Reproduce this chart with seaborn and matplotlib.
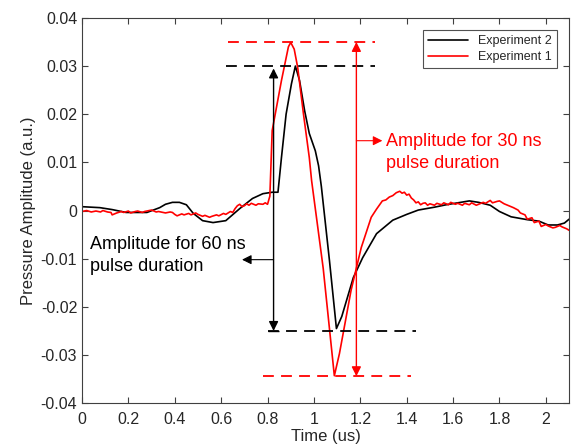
import pandas as pd
import matplotlib
matplotlib.use("Agg")
import matplotlib.pyplot as plt
import seaborn as sns

# Experiment 2 (black trace)
time_exp2 = [0.00, 0.077, 0.13, 0.19, 0.28, 0.335, 0.36, 0.39, 0.42, 0.45, 0.48, 0.52,
             0.565, 0.62, 0.68, 0.735, 0.78, 0.82, 0.845, 0.86, 0.88, 0.903, 0.92,
             0.938, 0.96, 0.98, 1.006, 1.02, 1.032, 1.067, 1.097, 1.12, 1.17, 1.21,
             1.27, 1.34, 1.40, 1.45, 1.52, 1.57, 1.62, 1.67, 1.71, 1.76, 1.80, 1.85,
             1.92, 1.97, 2.01, 2.05, 2.08, 2.10]
amp_exp2 = [0.0008, 0.0006, 0.0002, -0.0004, -0.0004, 0.0006, 0.0013, 0.0017, 0.0017,
            0.0012, -0.0006, -0.0021, -0.0025, -0.0021, 0.0004, 0.0025, 0.0035, 0.0038,
            0.0038, 0.0110, 0.0200, 0.0263, 0.0300, 0.0270, 0.0207, 0.0160, 0.0124,
            0.0093, 0.0050, -0.0104, -0.0245, -0.0220, -0.0139, -0.0098, -0.0048,
            -0.0020, -0.0008, 0.0001, 0.0007, 0.0012, 0.0016, 0.0020, 0.0017, 0.0011,
            -0.0002, -0.0013, -0.0019, -0.0022, -0.0030, -0.0030, -0.0026, -0.0018]

# Experiment 1 (red trace)
time_exp1 = [0.00, 0.02, 0.04, 0.06, 0.08, 0.09, 0.11, 0.125, 0.13, 0.15, 0.17, 0.18,
             0.20, 0.21, 0.23, 0.24, 0.26, 0.27, 0.29, 0.30, 0.32, 0.33, 0.35, 0.36,
             0.38, 0.39, 0.40, 0.41, 0.43, 0.44, 0.46, 0.47, 0.49, 0.50, 0.52, 0.53,
             0.55, 0.56, 0.58, 0.59, 0.61, 0.62, 0.64, 0.65, 0.66, 0.67, 0.68, 0.69,
             0.70, 0.71, 0.72, 0.73, 0.75, 0.76, 0.78, 0.79, 0.80, 0.81, 0.82, 0.86,
             0.89, 0.90, 0.915, 0.93, 0.955, 0.98, 0.99, 1.04, 1.088, 1.11, 1.16,
             1.204, 1.247, 1.27, 1.295, 1.31, 1.325, 1.34, 1.355, 1.37, 1.38, 1.39,
             1.40, 1.41, 1.42, 1.43, 1.44, 1.45, 1.46, 1.47, 1.48, 1.49, 1.50, 1.52,
             1.53, 1.55, 1.56, 1.58, 1.59, 1.61, 1.62, 1.64, 1.65, 1.67, 1.68, 1.70,
             1.71, 1.73, 1.74, 1.76, 1.77, 1.79, 1.80, 1.82, 1.83, 1.85, 1.86, 1.88,
             1.89, 1.91, 1.92, 1.94, 1.95, 1.97, 1.98, 2.00, 2.01, 2.03, 2.04, 2.06,
             2.07, 2.09, 2.10]
amp_exp1 = [-0.0002, 0.0000, -0.0003, -0.0001, -0.0003, 0.0000, -0.0003, -0.0004,
            -0.0009, -0.0005, -0.0002, -0.0004, -0.0001, -0.0005, -0.0002, -0.0001,
            -0.0004, -0.0002, 0.0000, 0.0001, -0.0003, -0.0002, -0.0004, -0.0005,
            -0.0003, -0.0004, -0.0008, -0.0011, -0.0007, -0.0009, -0.0006, -0.0009,
            -0.0005, -0.0008, -0.0012, -0.0010, -0.0014, -0.0012, -0.0009, -0.0011,
            -0.0006, -0.0008, -0.0002, -0.0004, 0.0004, 0.0010, 0.0013, 0.0008,
            0.0010, 0.0014, 0.0011, 0.0015, 0.0011, 0.0014, 0.0013, 0.0016, 0.0013,
            0.0030, 0.0166, 0.0270, 0.0340, 0.0349, 0.0335, 0.0297, 0.0200, 0.0110,
            0.0062, -0.0120, -0.0343, -0.0297, -0.0166, -0.0077, -0.0014, 0.0003,
            0.0020, 0.0022, 0.0028, 0.0031, 0.0037, 0.0040, 0.0036, 0.0038, 0.0032,
            0.0034, 0.0026, 0.0022, 0.0016, 0.0018, 0.0012, 0.0015, 0.0016, 0.0011,
            0.0014, 0.0011, 0.0015, 0.0012, 0.0016, 0.0012, 0.0017, 0.0013, 0.0015,
            0.0011, 0.0015, 0.0012, 0.0016, 0.0011, 0.0013, 0.0017, 0.0015, 0.0021,
            0.0016, 0.0019, 0.0020, 0.0014, 0.0012, 0.0008, 0.0006, 0.0001, -0.0005,
            -0.0009, -0.0018, -0.0015, -0.0025, -0.0022, -0.0033, -0.0029, -0.0032,
            -0.0036, -0.0035, -0.0031, -0.0034, -0.0038, -0.0041]

# amplitude levels marked by the dashed lines
peak_60 = 0.030
trough_60 = -0.025
peak_30 = 0.035
trough_30 = -0.0344

df = pd.concat([
    pd.DataFrame({"Time": time_exp2, "Amp": amp_exp2, "Series": "Experiment 2"}),
    pd.DataFrame({"Time": time_exp1, "Amp": amp_exp1, "Series": "Experiment 1"}),
])

sns.set_style("ticks")
plt.rcParams["font.family"] = ["Liberation Sans", "DejaVu Sans"]

fig = plt.figure(figsize=(5.71, 4.47), dpi=100)
ax = fig.add_axes([0.1436, 0.098, 0.853, 0.862])

sns.lineplot(data=df, x="Time", y="Amp", hue="Series",
             palette={"Experiment 2": "black", "Experiment 1": "red"},
             estimator=None, sort=False, linewidth=1.2, ax=ax)

# dashed reference levels
dash = (0, (6, 4))
ax.hlines(peak_30, 0.63, 1.265, colors="red", linestyles=dash, linewidth=1.3)
ax.hlines(peak_60, 0.62, 1.265, colors="black", linestyles=dash, linewidth=1.3)
ax.hlines(trough_60, 0.80, 1.44, colors="black", linestyles=dash, linewidth=1.3)
ax.hlines(trough_30, 0.78, 1.42, colors="red", linestyles=dash, linewidth=1.3)

# 60 ns amplitude arrow
ax.annotate("", xy=(0.826, peak_60 - 0.0005), xytext=(0.826, trough_60),
            arrowprops=dict(arrowstyle="<|-|>", color="black", lw=1.0,
                            mutation_scale=14, shrinkA=0, shrinkB=0))
ax.hlines(trough_60, 0.80, 0.85, colors="black", linewidth=1.0)
ax.annotate("", xy=(0.69, -0.0102), xytext=(0.826, -0.0102),
            arrowprops=dict(arrowstyle="-|>", color="black", lw=0.8,
                            mutation_scale=14, shrinkA=0, shrinkB=0))
ax.text(0.035, -0.0093, "Amplitude for 60 ns\npulse duration", color="black",
        fontsize=13, va="center", ha="left", linespacing=1.4)

# 30 ns amplitude arrow
ax.annotate("", xy=(1.183, peak_30), xytext=(1.183, trough_30),
            arrowprops=dict(arrowstyle="<|-|>", color="red", lw=1.0,
                            mutation_scale=14, shrinkA=0, shrinkB=0))
ax.annotate("", xy=(1.295, 0.0145), xytext=(1.183, 0.0145),
            arrowprops=dict(arrowstyle="-|>", color="red", lw=0.8,
                            mutation_scale=14, shrinkA=0, shrinkB=0))
ax.text(1.31, 0.0120, "Amplitude for 30 ns\npulse duration", color="red",
        fontsize=13, va="center", ha="left", linespacing=1.4)

ax.set_xlim(0, 2.1)
ax.set_ylim(-0.04, 0.04)
ax.set_xticks([0, 0.2, 0.4, 0.6, 0.8, 1, 1.2, 1.4, 1.6, 1.8, 2])
ax.set_xticklabels(["0", "0.2", "0.4", "0.6", "0.8", "1", "1.2", "1.4", "1.6", "1.8", "2"])
ax.set_yticks([-0.04, -0.03, -0.02, -0.01, 0, 0.01, 0.02, 0.03, 0.04])
ax.set_yticklabels(["-0.04", "-0.03", "-0.02", "-0.01", "0", "0.01", "0.02", "0.03", "0.04"])
ax.tick_params(direction="in", top=True, right=True, length=4, width=0.8,
               labelsize=11.5, colors="#404040", labelcolor="#262626")
ax.tick_params(axis="x", pad=6)
for s in ax.spines.values():
    s.set_visible(True)
    s.set_color("#404040")
    s.set_linewidth(0.8)

ax.set_xlabel("Time (us)", fontsize=12, color="#262626", labelpad=2)
ax.set_ylabel("Pressure Amplitude (a.u.)", fontsize=12, color="#262626", labelpad=3)

leg = ax.legend(loc="upper right", fontsize=9, frameon=True, fancybox=False,
                edgecolor="#262626", handlelength=3.2, borderaxespad=1.0,
                borderpad=0.4, labelspacing=0.3)
leg.get_frame().set_linewidth(0.8)
leg.set_title(None)

fig.savefig("out.png", dpi=100)
